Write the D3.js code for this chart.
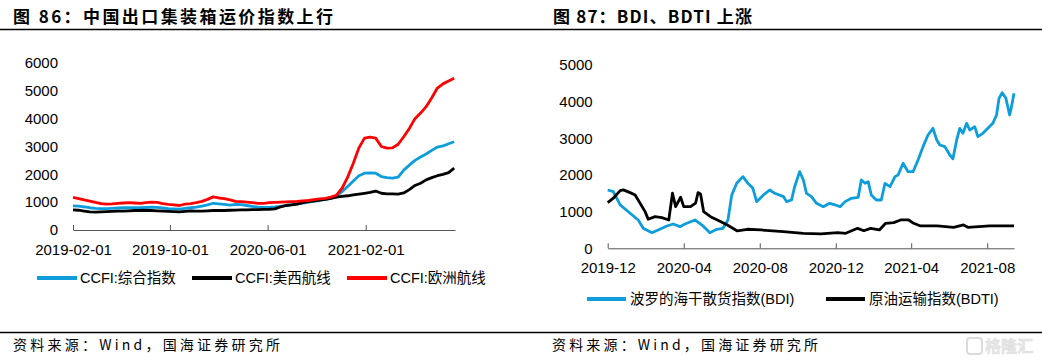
<!DOCTYPE html>
<html>
<head>
<meta charset="utf-8">
<script src="https://cdn.jsdelivr.net/npm/d3@7"></script>
<style>
  body { margin: 0; background: #fff; }
  svg { display: block; }
  .axis text { font-family: "Liberation Sans", Arial, sans-serif; font-size: 15px; fill: #000; }
  .axis path, .axis line { stroke: #555; }
  .legend text { font-family: "Liberation Sans", Arial, "Noto Sans CJK SC", sans-serif; font-size: 14.5px; fill: #000; }
  .title { font-family: "Noto Sans CJK SC", sans-serif; font-weight: bold; font-size: 17px; }
  .source { font-family: "Noto Sans CJK SC", sans-serif; font-size: 14px; }
</style>
</head>
<body>
<div id="chart"></div>
<script>
// ---- left chart: CCFI, every two weeks from 2019-02-01
const ccfiDates = d3.timeDay.range(new Date(2019, 1, 1), new Date(2021, 8, 12), 14);
const ccfiComposite = [870, 860, 830, 800, 780, 770, 770, 780, 790, 800, 800, 800, 800, 810, 820, 810,
  790, 770, 760, 750, 780, 800, 820, 860, 900, 960, 940, 920, 890, 920, 910, 880, 850, 820, 810, 815,
  830, 850, 880, 910, 940, 970, 1000, 1030, 1060, 1100, 1140, 1220, 1380, 1560, 1760, 1950, 2040,
  2050, 2040, 1920, 1880, 1860, 1900, 2150, 2330, 2500, 2620, 2730, 2860, 2980, 3020, 3100, 3170];
const ccfiUSWest = [720, 710, 680, 650, 640, 650, 660, 670, 680, 680, 690, 700, 700, 710, 700, 690,
  680, 670, 660, 650, 670, 690, 680, 680, 690, 700, 700, 700, 710, 715, 720, 725, 730, 735, 740, 745,
  760, 830, 880, 900, 930, 980, 1020, 1050, 1070, 1100, 1140, 1180, 1210, 1230, 1260, 1290, 1320,
  1350, 1400, 1320, 1300, 1300, 1290, 1330, 1450, 1600, 1680, 1800, 1880, 1950, 2000, 2060, 2220];
const ccfiEurope = [1170, 1130, 1080, 1040, 990, 950, 930, 940, 960, 970, 980, 970, 960, 980, 1000, 990,
  950, 920, 900, 880, 930, 950, 980, 1030, 1100, 1190, 1150, 1130, 1080, 1030, 1020, 1000, 980, 960,
  960, 980, 990, 1000, 1010, 1020, 1030, 1045, 1060, 1090, 1120, 1140, 1180, 1250, 1500, 1900, 2400,
  2950, 3300, 3340, 3300, 3000, 2940, 2950, 3080, 3350, 3650, 4000, 4200, 4430, 4750, 5100, 5250, 5350, 5450];
const ccfiTicks = ["2019-02-01", "2019-10-01", "2020-06-01", "2021-02-01"];
const ccfiNames = ["CCFI:综合指数", "CCFI:美西航线", "CCFI:欧洲航线"];

// ---- right chart: BDI and BDTI
const bdi = [["2019-12-01", 1590], ["2019-12-10", 1547], ["2019-12-21", 1183], ["2020-01-06", 956],
  ["2020-01-19", 773], ["2020-01-27", 546], ["2020-02-10", 426], ["2020-02-20", 500], ["2020-03-05", 609],
  ["2020-03-15", 664], ["2020-03-26", 590], ["2020-04-03", 664], ["2020-04-19", 773], ["2020-05-02", 609],
  ["2020-05-13", 426], ["2020-05-24", 519], ["2020-06-03", 546], ["2020-06-11", 773], ["2020-06-17", 1450],
  ["2020-06-25", 1773], ["2020-07-05", 1955], ["2020-07-13", 1773], ["2020-07-21", 1636], ["2020-07-27", 1273],
  ["2020-08-07", 1455], ["2020-08-17", 1590], ["2020-08-25", 1500], ["2020-09-08", 1410], ["2020-09-13", 1273],
  ["2020-09-21", 1318], ["2020-09-26", 1680], ["2020-10-04", 2090], ["2020-10-10", 1864], ["2020-10-15", 1500],
  ["2020-10-23", 1410], ["2020-10-31", 1227], ["2020-11-11", 1136], ["2020-11-21", 1227], ["2020-11-30", 1182],
  ["2020-12-08", 1136], ["2020-12-16", 1273], ["2020-12-26", 1364], ["2021-01-06", 1391], ["2021-01-11", 1864],
  ["2021-01-17", 1773], ["2021-01-22", 1818], ["2021-01-27", 1455], ["2021-02-04", 1318], ["2021-02-12", 1318],
  ["2021-02-18", 1773], ["2021-02-26", 1682], ["2021-03-06", 1955], ["2021-03-11", 2000], ["2021-03-19", 2318],
  ["2021-03-27", 2090], ["2021-04-04", 2090], ["2021-04-12", 2409], ["2021-04-20", 2773], ["2021-04-28", 3091],
  ["2021-05-06", 3273], ["2021-05-12", 2955], ["2021-05-17", 2818], ["2021-05-25", 2773], ["2021-06-02", 2545],
  ["2021-06-07", 2440], ["2021-06-13", 2955], ["2021-06-18", 3273], ["2021-06-23", 3136], ["2021-06-29", 3409],
  ["2021-07-04", 3227], ["2021-07-12", 3318], ["2021-07-17", 3045], ["2021-07-25", 3136], ["2021-08-02", 3273],
  ["2021-08-10", 3409], ["2021-08-16", 3636], ["2021-08-20", 4091], ["2021-08-25", 4245], ["2021-08-31", 4091],
  ["2021-09-06", 3636], ["2021-09-09", 3864], ["2021-09-13", 4227]];
const bdti = [["2019-12-01", 1246], ["2019-12-10", 1366], ["2019-12-21", 1574], ["2019-12-26", 1593],
  ["2020-01-06", 1519], ["2020-01-14", 1456], ["2020-01-22", 1230], ["2020-01-30", 1000], ["2020-02-04", 792],
  ["2020-02-15", 863], ["2020-02-26", 836], ["2020-03-08", 773], ["2020-03-14", 1503], ["2020-03-19", 1137],
  ["2020-03-27", 1393], ["2020-04-01", 1137], ["2020-04-12", 1137], ["2020-04-20", 1230], ["2020-04-24", 1519],
  ["2020-04-28", 1484], ["2020-05-03", 1000], ["2020-05-14", 863], ["2020-05-25", 773], ["2020-06-10", 637],
  ["2020-06-26", 473], ["2020-07-12", 519], ["2020-08-03", 500], ["2020-09-08", 455], ["2020-10-10", 409],
  ["2020-11-07", 391], ["2020-12-04", 427], ["2020-12-17", 409], ["2021-01-05", 545], ["2021-01-15", 480],
  ["2021-01-26", 545], ["2021-02-09", 500], ["2021-02-19", 682], ["2021-03-04", 700], ["2021-03-15", 773],
  ["2021-03-28", 773], ["2021-04-05", 682], ["2021-04-16", 609], ["2021-05-13", 609], ["2021-06-08", 573],
  ["2021-06-24", 636], ["2021-07-01", 573], ["2021-08-05", 609], ["2021-09-13", 609]];
const bdTicks = ["2019-12-01", "2020-04-01", "2020-08-01", "2020-12-01", "2021-04-01", "2021-08-01"];
const bdNames = ["波罗的海干散货指数(BDI)", "原油运输指数(BDTI)"];

const BLUE = "#0d9ddb", BLACK = "#000", RED = "#ff0000";
const parse = d3.timeParse("%Y-%m-%d");

const svg = d3.select("#chart").append("svg").attr("width", 1042).attr("height", 361);

// header / footer
svg.append("line").attr("x1", 0).attr("x2", 1042).attr("y1", 29.5).attr("y2", 29.5).attr("stroke", "#000").attr("stroke-width", 1.5);
svg.append("line").attr("x1", 0).attr("x2", 1042).attr("y1", 332.5).attr("y2", 332.5).attr("stroke", "#000").attr("stroke-width", 1.5);
svg.append("text").attr("class", "title").attr("x", 13).attr("y", 23)
  .attr("textLength", 320).attr("lengthAdjust", "spacing").text("图 86：中国出口集装箱运价指数上行");
svg.append("text").attr("class", "title").attr("x", 553).attr("y", 23)
  .attr("textLength", 199).attr("lengthAdjust", "spacing").text("图 87：BDI、BDTI 上涨");
svg.append("text").attr("class", "source").attr("x", 13).attr("y", 350)
  .attr("textLength", 267).attr("lengthAdjust", "spacing").text("资料来源：Wind，国海证券研究所");
svg.append("text").attr("class", "source").attr("x", 552).attr("y", 350)
  .attr("textLength", 266).attr("lengthAdjust", "spacing").text("资料来源：Wind，国海证券研究所");

// watermark
const wm = svg.append("g").attr("opacity", 0.35);
wm.append("rect").attr("x", 967).attr("y", 338).attr("width", 15).attr("height", 16).attr("rx", 3)
  .attr("fill", "none").attr("stroke", "#999").attr("stroke-width", 2);
wm.append("text").attr("x", 985).attr("y", 352).attr("fill", "#bbb").attr("stroke", "#999").attr("stroke-width", 0.5)
  .style("font-family", "Noto Sans CJK SC").style("font-size", "16px").style("font-weight", "bold").text("格隆汇");

function drawAxes(g, x, y, xTicks, fmt, yTicks, x0, y0) {
  g.append("g").attr("class", "axis")
    .attr("transform", `translate(0,${y0})`)
    .call(d3.axisBottom(x).tickValues(xTicks.map(parse)).tickFormat(d3.timeFormat(fmt))
      .tickSizeInner(-5).tickSizeOuter(0).tickPadding(14));
  const ya = g.append("g").attr("class", "axis")
    .attr("transform", `translate(${x0},0)`)
    .call(d3.axisLeft(y).tickValues(yTicks).tickFormat(d3.format("d")).tickSize(0).tickPadding(15));
  ya.select(".domain").remove();
}

// ---- left chart
{
  const g = svg.append("g");
  const x = d3.scaleTime().domain([new Date(2019, 1, 1), new Date(2021, 8, 12)]).range([73, 455]);
  const y = d3.scaleLinear().domain([0, 6000]).range([230, 63]);
  drawAxes(g, x, y, ccfiTicks, "%Y-%m-%d", d3.range(0, 6001, 1000), 73, 230);

  const line = d3.line().x((d, i) => x(ccfiDates[i])).y(d => y(d));
  [[ccfiComposite, BLUE], [ccfiUSWest, BLACK], [ccfiEurope, RED]].forEach(([vals, c]) => {
    g.append("path").datum(vals).attr("d", line).attr("fill", "none")
      .attr("stroke", c).attr("stroke-width", 2.8).attr("stroke-linejoin", "round");
  });

  const lg = g.append("g").attr("class", "legend");
  const lx = [37, 192, 347];
  ccfiNames.forEach((n, i) => {
    lg.append("line").attr("x1", lx[i]).attr("x2", lx[i] + 40).attr("y1", 278).attr("y2", 278)
      .attr("stroke", [BLUE, BLACK, RED][i]).attr("stroke-width", 4);
    lg.append("text").attr("x", lx[i] + 43).attr("y", 283).text(n);
  });
}

// ---- right chart
{
  const g = svg.append("g");
  const x = d3.scaleTime().domain([new Date(2019, 11, 1), new Date(2021, 8, 13)]).range([607.7, 1014]);
  const y = d3.scaleLinear().domain([0, 5000]).range([248.3, 65]);
  drawAxes(g, x, y, bdTicks, "%Y-%m", d3.range(0, 5001, 1000), 607.7, 248.3);

  const line = d3.line().x(d => x(parse(d[0]))).y(d => y(d[1]));
  [[bdi, BLUE], [bdti, BLACK]].forEach(([vals, c]) => {
    g.append("path").datum(vals).attr("d", line).attr("fill", "none")
      .attr("stroke", c).attr("stroke-width", 2.8).attr("stroke-linejoin", "round");
  });

  const lg = g.append("g").attr("class", "legend");
  const lx = [587, 826];
  bdNames.forEach((n, i) => {
    lg.append("line").attr("x1", lx[i]).attr("x2", lx[i] + 39).attr("y1", 299).attr("y2", 299)
      .attr("stroke", [BLUE, BLACK][i]).attr("stroke-width", 4);
    lg.append("text").attr("x", lx[i] + 43).attr("y", 304).text(n);
  });
}
</script>
</body>
</html>
